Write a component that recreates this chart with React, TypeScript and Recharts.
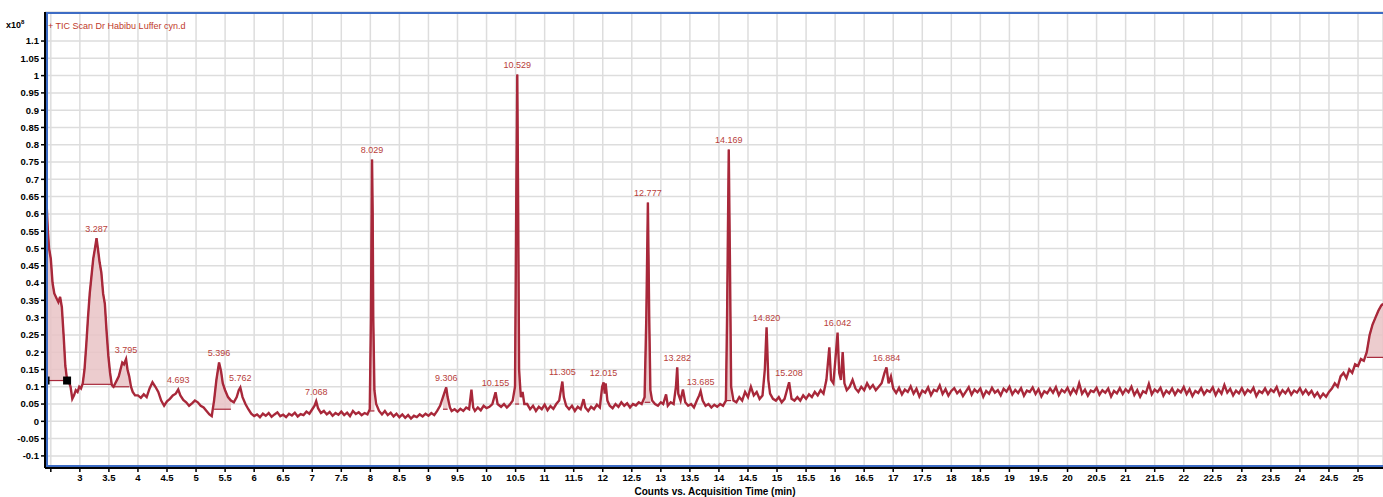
import {
  ComposedChart, Line, Area, Scatter, XAxis, YAxis, CartesianGrid, LabelList,
} from 'recharts'

// TIC trace (time in min, counts x10^8)
const ticEarly: [number, number][] = [
  [2.40, .64], [2.43, .62], [2.45, .55], [2.47, .50], [2.50, .47], [2.53, .40], [2.56, .37], [2.60, .355],
  [2.63, .345], [2.66, .36], [2.69, .33], [2.72, .25], [2.75, .16], [2.78, .12], [2.81, .115], [2.84, .10],
  [2.87, .065], [2.90, .075], [2.93, .09], [2.96, .085], [2.99, .10], [3.02, .095], [3.05, .11], [3.08, .15],
  [3.11, .22], [3.14, .30], [3.17, .37], [3.20, .42], [3.23, .47], [3.26, .50], [3.287, .53], [3.31, .50],
  [3.34, .46], [3.37, .43], [3.40, .37], [3.43, .34], [3.46, .26], [3.49, .19], [3.52, .14], [3.55, .105],
  [3.58, .10], [3.61, .11], [3.64, .12], [3.67, .13], [3.70, .15], [3.73, .17], [3.76, .165], [3.795, .18],
  [3.82, .15], [3.85, .13], [3.88, .10], [3.91, .085], [3.95, .075], [4.00, .075], [4.05, .068], [4.10, .078],
  [4.15, .07], [4.20, .095], [4.25, .113], [4.30, .10], [4.35, .085], [4.40, .06], [4.45, .045], [4.50, .058],
  [4.55, .065], [4.60, .075], [4.65, .08], [4.693, .092], [4.73, .075], [4.78, .062], [4.83, .055], [4.88, .045],
  [4.93, .052], [4.98, .06], [5.03, .055], [5.08, .045], [5.13, .04], [5.18, .03], [5.23, .02], [5.27, .015],
  [5.31, .06], [5.35, .12], [5.396, .17], [5.43, .145], [5.46, .11], [5.50, .09], [5.55, .07], [5.60, .06],
  [5.65, .055], [5.70, .07], [5.735, .09], [5.762, .098], [5.80, .07], [5.85, .05], [5.90, .035], [5.95, .022],
  [6.00, .015],
]

const ticMid: [number, number][] = [
  [6.05, .02], [6.10, .012], [6.15, .022], [6.20, .016], [6.25, .024], [6.30, .013], [6.35, .02], [6.40, .026],
  [6.45, .015], [6.50, .019], [6.55, .012], [6.60, .022], [6.65, .017], [6.70, .025], [6.75, .014], [6.80, .021],
  [6.85, .018], [6.90, .028], [6.95, .022], [7.00, .035], [7.04, .045], [7.068, .058], [7.10, .038], [7.15, .024],
  [7.20, .03], [7.25, .02], [7.30, .027], [7.35, .016], [7.40, .024], [7.45, .019], [7.50, .028], [7.55, .018],
  [7.60, .025], [7.65, .015], [7.70, .03], [7.75, .021], [7.80, .026], [7.85, .018], [7.90, .024], [7.95, .02],
  [7.99, .035], [8.01, .3], [8.029, .757], [8.04, .6], [8.05, .3], [8.07, .09], [8.10, .05], [8.15, .03],
  [8.20, .02], [8.25, .03], [8.30, .018], [8.35, .025], [8.40, .014], [8.45, .022], [8.50, .012], [8.55, .02],
  [8.60, .01], [8.65, .018], [8.70, .008], [8.75, .016], [8.80, .012], [8.85, .02], [8.90, .014], [8.95, .022],
  [9.00, .016], [9.05, .024], [9.10, .018], [9.15, .03], [9.20, .045], [9.25, .07], [9.306, .098], [9.33, .07],
  [9.37, .04], [9.40, .03], [9.45, .035], [9.50, .028], [9.55, .036], [9.60, .03], [9.65, .04], [9.70, .035],
  [9.74, .092], [9.77, .04], [9.80, .03], [9.85, .04], [9.90, .032], [9.95, .045], [10.00, .038], [10.05, .042],
  [10.10, .05], [10.155, .084], [10.19, .05], [10.25, .042], [10.30, .05], [10.35, .04], [10.40, .048], [10.45, .06],
  [10.49, .1], [10.51, .6], [10.529, 1.003], [10.545, .6], [10.56, .15], [10.59, .07], [10.62, .085], [10.65, .05],
  [10.70, .05], [10.75, .035], [10.80, .045], [10.85, .03], [10.90, .042], [10.95, .035], [11.00, .048], [11.05, .032],
  [11.10, .044], [11.15, .036], [11.20, .05], [11.25, .06], [11.28, .09], [11.305, .115], [11.33, .07], [11.37, .045],
  [11.42, .035], [11.47, .045], [11.52, .03], [11.57, .042], [11.62, .035], [11.67, .064], [11.70, .04], [11.75, .03],
  [11.80, .042], [11.85, .035], [11.90, .048], [11.95, .04], [11.99, .1], [12.015, .113], [12.035, .08], [12.05, .11],
  [12.08, .06], [12.12, .045], [12.17, .038], [12.22, .05], [12.27, .042], [12.32, .055], [12.37, .045], [12.42, .052],
  [12.47, .04], [12.52, .05], [12.57, .046], [12.62, .055], [12.67, .05], [12.72, .07], [12.75, .3], [12.777, .633],
  [12.80, .3], [12.82, .09], [12.85, .06], [12.90, .05], [12.95, .045], [13.00, .055], [13.04, .05], [13.09, .078],
  [13.12, .045], [13.17, .055], [13.22, .05], [13.26, .1], [13.282, .156], [13.30, .08], [13.34, .06], [13.38, .092],
  [13.42, .055], [13.47, .045], [13.52, .05], [13.57, .04], [13.62, .06], [13.66, .075], [13.685, .087], [13.72, .06],
  [13.77, .045], [13.82, .05], [13.87, .04], [13.92, .048], [13.97, .042], [14.02, .05], [14.07, .045], [14.12, .06],
  [14.14, .3], [14.169, .786], [14.19, .45], [14.21, .1], [14.25, .06],
]

const ticLate: [number, number][] = [
  [14.30, .055], [14.35, .07], [14.40, .06], [14.45, .085], [14.50, .07], [14.55, .1], [14.60, .075], [14.65, .085],
  [14.70, .065], [14.75, .075], [14.79, .15], [14.82, .272], [14.85, .12], [14.88, .08], [14.93, .065], [14.98, .06],
  [15.03, .07], [15.08, .055], [15.13, .065], [15.17, .09], [15.208, .113], [15.25, .065], [15.30, .06], [15.35, .07],
  [15.40, .06], [15.45, .075], [15.50, .065], [15.55, .078], [15.60, .07], [15.65, .085], [15.70, .075], [15.75, .09],
  [15.80, .08], [15.85, .12], [15.90, .214], [15.93, .12], [15.97, .11], [16.00, .17], [16.042, .257], [16.07, .14],
  [16.10, .12], [16.13, .2], [16.16, .11], [16.20, .09], [16.25, .1], [16.30, .12], [16.35, .095], [16.40, .085],
  [16.45, .1], [16.50, .09], [16.55, .11], [16.60, .095], [16.65, .105], [16.70, .09], [16.75, .1], [16.80, .11],
  [16.85, .14], [16.884, .156], [16.92, .11], [16.96, .13], [17.00, .095],
]

const ticTail: [number, number][] = [
  [17.05, .082], [17.10, .097], [17.15, .078], [17.20, .092], [17.25, .085], [17.30, .101], [17.35, .080], [17.40, .094],
  [17.45, .072], [17.50, .089], [17.55, .083], [17.60, .098], [17.65, .076], [17.70, .091], [17.75, .087], [17.80, .104],
  [17.85, .079], [17.90, .093], [17.95, .074], [18.00, .088], [18.05, .096], [18.10, .081], [18.15, .09], [18.20, .073],
  [18.25, .086], [18.30, .099], [18.35, .077], [18.40, .092], [18.45, .084], [18.50, .095], [18.55, .071], [18.60, .088],
  [18.65, .08], [18.70, .097], [18.75, .083], [18.80, .09], [18.85, .075], [18.90, .094], [18.95, .086], [19.00, .1],
  [19.05, .078], [19.10, .091], [19.15, .082], [19.20, .096], [19.25, .074], [19.30, .089], [19.35, .085], [19.40, .098],
  [19.45, .079], [19.50, .093], [19.55, .072], [19.60, .087], [19.65, .081], [19.70, .095], [19.75, .083], [19.80, .099],
  [19.85, .076], [19.90, .091], [19.95, .084], [20.00, .097], [20.05, .078], [20.10, .094], [20.15, .082], [20.20, .11],
  [20.25, .08], [20.30, .092], [20.35, .074], [20.40, .089], [20.45, .085], [20.50, .097], [20.55, .077], [20.60, .09],
  [20.65, .083], [20.70, .095], [20.75, .072], [20.80, .088], [20.85, .081], [20.90, .096], [20.95, .079], [21.00, .093],
  [21.05, .084], [21.10, .1], [21.15, .076], [21.20, .09], [21.25, .071], [21.30, .087], [21.35, .082], [21.40, .108],
  [21.45, .078], [21.50, .092], [21.55, .085], [21.60, .097], [21.65, .074], [21.70, .089], [21.75, .081], [21.80, .095],
  [21.85, .077], [21.90, .091], [21.95, .084], [22.00, .099], [22.05, .079], [22.10, .093], [22.15, .073], [22.20, .088],
  [22.25, .082], [22.30, .096], [22.35, .078], [22.40, .09], [22.45, .085], [22.50, .098], [22.55, .076], [22.60, .092],
  [22.65, .08], [22.70, .105], [22.75, .083], [22.80, .094], [22.85, .075], [22.90, .089], [22.95, .081], [23.00, .096],
  [23.05, .078], [23.10, .091], [23.15, .084], [23.20, .097], [23.25, .073], [23.30, .088], [23.35, .082], [23.40, .095],
  [23.45, .079], [23.50, .092], [23.55, .085], [23.60, .099], [23.65, .076], [23.70, .09], [23.75, .081], [23.80, .094],
  [23.85, .077], [23.90, .089], [23.95, .083], [24.00, .096], [24.05, .079], [24.10, .091], [24.15, .078], [24.20, .088],
  [24.25, .072], [24.30, .083], [24.35, .068], [24.40, .08], [24.45, .071], [24.50, .085], [24.55, .095], [24.60, .11],
  [24.65, .1], [24.70, .13], [24.75, .14], [24.80, .125], [24.85, .15], [24.90, .14], [24.95, .165], [25.00, .16],
  [25.05, .18], [25.10, .175], [25.15, .2], [25.20, .25], [25.25, .28], [25.30, .3], [25.35, .32], [25.40, .335],
  [25.43, .34],
]

// integrated peak regions: [from, to, baseline]
const integrations: [number, number, number][] = [
  [2.40, 2.78, .118], [3.05, 3.55, .107], [3.55, 3.85, .1], [5.31, 5.60, .035],
  [7.99, 8.07, .03], [9.25, 9.33, .035], [10.49, 10.56, .05], [12.72, 12.82, .055],
  [14.12, 14.21, .06], [25.15, 25.43, .185],
]

// integration baseline end markers of the first region
const markerTimes = [2.41, 2.78]
const markerLevel = .118

const peakTimes = [3.287, 3.795, 4.693, 5.396, 5.762, 7.068, 8.029, 9.306, 10.155, 10.529,
  11.305, 12.015, 12.777, 13.282, 13.685, 14.169, 14.82, 15.208, 16.042, 16.884]
const peakLabels = ['3.287', '3.795', '4.693', '5.396', '5.762', '7.068', '8.029', '9.306', '10.155', '10.529',
  '11.305', '12.015', '12.777', '13.282', '13.685', '14.169', '14.820', '15.208', '16.042', '16.884']

const xTicks = [2.5, 3, 3.5, 4, 4.5, 5, 5.5, 6, 6.5, 7, 7.5, 8, 8.5, 9, 9.5, 10, 10.5, 11, 11.5, 12, 12.5, 13, 13.5,
  14, 14.5, 15, 15.5, 16, 16.5, 17, 17.5, 18, 18.5, 19, 19.5, 20, 20.5, 21, 21.5, 22, 22.5, 23, 23.5, 24, 24.5, 25]
const yTicks = [-0.1, -0.05, 0, 0.05, 0.1, 0.15, 0.2, 0.25, 0.3, 0.35, 0.4, 0.45, 0.5, 0.55, 0.6, 0.65, 0.7,
  0.75, 0.8, 0.85, 0.9, 0.95, 1, 1.05, 1.1]

const ticData = [...ticEarly, ...ticMid, ...ticLate, ...ticTail].map(([t, v]) => ({ t, v }))

const fills = integrations.map(([from, to, base]) =>
  ticData.filter((d) => d.t >= from && d.t <= to).map((d) => ({ t: d.t, range: [base, d.v] })))

const peaks = peakTimes.map((t, i) => ({
  t, v: ticData.find((d) => d.t === t)?.v ?? 0, label: peakLabels[i],
}))

const markers = markerTimes.map((t) => ({ t, v: markerLevel }))

const TRACE = '#a8283a'
const FRAME = '#3d6cc4'
const tickStyle = { fontSize: 9.5, fontWeight: 700, fill: '#000', fontFamily: 'Liberation Sans, Arial, sans-serif' }

export default function App() {
  return (
    <div style={{ position: 'relative', width: 1383, height: 497, overflow: 'hidden', background: '#fff',
      fontFamily: 'Liberation Sans, Arial, sans-serif' }}>
      <style>{'body{margin:0}'}</style>
      <ComposedChart width={1383} height={497} margin={{ top: 12, right: 0, bottom: 0, left: 0 }}>
        <CartesianGrid stroke="#dddddd" strokeWidth={1.5} />
        <XAxis
          type="number" dataKey="t" domain={[2.4, 25.43]} ticks={xTicks} allowDataOverflow
          height={29} tickSize={4} tick={tickStyle} interval={0}
          axisLine={{ stroke: '#000', strokeWidth: 2 }} tickLine={{ stroke: '#000', strokeWidth: 1.5 }}
          tickFormatter={(v: number) => (v === 2.5 ? '' : String(v))}
        />
        <YAxis
          type="number" domain={[-0.135, 1.184]} ticks={yTicks} allowDataOverflow
          width={45} tickSize={4} tick={tickStyle} interval={0}
          axisLine={{ stroke: '#000', strokeWidth: 2 }} tickLine={{ stroke: '#000', strokeWidth: 1.5 }}
          tickFormatter={(v: number) => String(parseFloat(v.toFixed(2)))}
        />
        {fills.map((f, i) => (
          <Area
            key={i} data={f} dataKey="range" type="linear" fill="#e9c3c6" fillOpacity={0.85}
            stroke={TRACE} strokeWidth={1.2} isAnimationActive={false} dot={false} activeDot={false}
          />
        ))}
        <Line
          data={ticData} dataKey="v" type="linear" stroke={TRACE} strokeWidth={2.4}
          dot={false} activeDot={false} isAnimationActive={false}
        />
        <Scatter data={markers} dataKey="v" fill="#000" shape="square" isAnimationActive={false} />
        <Scatter data={peaks} dataKey="v" shape={() => <g />} isAnimationActive={false}>
          <LabelList dataKey="label" position="top" offset={2} fill="#b8403a" fontSize={9}
            fontFamily="Liberation Sans, Arial, sans-serif" />
        </Scatter>
      </ComposedChart>
      <div style={{ position: 'absolute', left: 46, top: 12, width: 1340, height: 455, boxSizing: 'border-box',
        borderTop: `2px solid ${FRAME}`, borderLeft: `2px solid ${FRAME}`, borderBottom: `2px solid ${FRAME}`,
        pointerEvents: 'none' }} />
      <div style={{ position: 'absolute', left: 6, top: 19, fontSize: 9, fontWeight: 700, color: '#000' }}>
        x10<sup style={{ fontSize: 6 }}>8</sup>
      </div>
      <div style={{ position: 'absolute', left: 48, top: 21, fontSize: 9, color: '#c0392b' }}>
        + TIC Scan Dr Habibu Luffer cyn.d
      </div>
      <div style={{ position: 'absolute', left: 0, width: 1430, top: 486, textAlign: 'center', fontSize: 10,
        fontWeight: 700, color: '#000' }}>
        Counts vs. Acquisition Time (min)
      </div>
    </div>
  )
}
